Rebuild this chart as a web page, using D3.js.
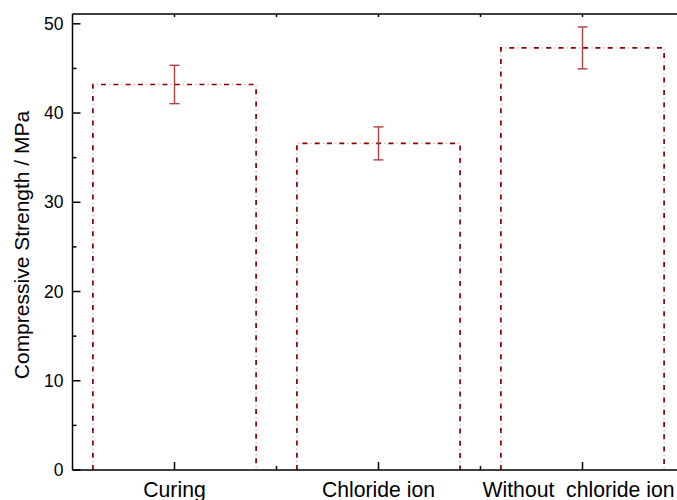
<!DOCTYPE html>
<html>
<head>
<meta charset="utf-8">
<script src="https://cdn.jsdelivr.net/npm/d3@7"></script>
<style>
  html, body { margin: 0; padding: 0; background: #fff; }
  svg { display: block; font-family: "Liberation Sans", Arial, sans-serif; }
</style>
</head>
<body>
<svg id="chart" width="677" height="500"></svg>
<script>
const categories = ["Curing", "Chloride ion", "Without  chloride ion"];
const strength = [43.2, 36.6, 47.3];
const errors = [2.15, 1.85, 2.35];
const yTicks = [0, 10, 20, 30, 40, 50];
const yMinorTicks = [5, 15, 25, 35, 45];
const yTitle = "Compressive Strength / MPa";

(function () {
const svg = d3.select("#chart");
const mLeft = 72.5, mRight = 684.5, mTop = 14, mBottom = 470;

const x = d3.scaleBand().domain(categories).range([mLeft, mRight])
  .paddingInner(0.2).paddingOuter(0.1);
const y = d3.scaleLinear().domain([0, 51.1]).range([mBottom, mTop]);

const barColor = "#8b0000";

categories.forEach((c, i) => {
  const x0 = x(c), x1 = x(c) + x.bandwidth();
  const p = d3.path();
  p.moveTo(x0, y(0)); p.lineTo(x0, y(strength[i])); p.lineTo(x1, y(strength[i])); p.lineTo(x1, y(0));
  svg.append("path").attr("d", p.toString()).attr("fill", "none")
    .attr("stroke", "#eab4b4").attr("stroke-width", 1.4)
    .attr("stroke-dasharray", "0,8,1.5,2.8");
  svg.append("path").attr("d", p.toString()).attr("fill", "none")
    .attr("stroke", barColor).attr("stroke-width", 1.7)
    .attr("stroke-dasharray", "5,7.3");
});

const errColor = "#b04040";
categories.forEach((c, i) => {
  const cx = x(c) + x.bandwidth() / 2;
  const g = svg.append("g").attr("stroke", errColor).attr("stroke-width", 1.4);
  g.append("line").attr("x1", cx).attr("x2", cx)
    .attr("y1", y(strength[i] + errors[i])).attr("y2", y(strength[i] - errors[i]));
  [strength[i] + errors[i], strength[i] - errors[i]].forEach(v => {
    g.append("line").attr("x1", cx - 5).attr("x2", cx + 5)
      .attr("y1", y(v)).attr("y2", y(v));
  });
});

const axisG = svg.append("g").attr("stroke", "#000").attr("stroke-width", 1.5).attr("fill", "none");
axisG.append("line").attr("x1", mLeft).attr("x2", mLeft).attr("y1", mTop).attr("y2", mBottom);
axisG.append("line").attr("x1", mLeft).attr("x2", mRight).attr("y1", mBottom).attr("y2", mBottom);
axisG.append("line").attr("x1", mLeft).attr("x2", mRight).attr("y1", mTop).attr("y2", mTop);
axisG.append("line").attr("x1", mRight).attr("x2", mRight).attr("y1", mTop).attr("y2", mBottom);

yTicks.forEach(v => {
  axisG.append("line").attr("x1", mLeft).attr("x2", mLeft + 8).attr("y1", y(v)).attr("y2", y(v));
});
yMinorTicks.forEach(v => {
  axisG.append("line").attr("x1", mLeft).attr("x2", mLeft + 4).attr("y1", y(v)).attr("y2", y(v));
});
svg.append("g").selectAll("text").data(yTicks).join("text")
  .attr("x", mLeft - 9).attr("y", d => y(d)).attr("dy", "0.35em")
  .attr("text-anchor", "end").attr("font-size", 17.5).attr("fill", "#000")
  .text(d => d);

categories.forEach(c => {
  const cx = x(c) + x.bandwidth() / 2;
  axisG.append("line").attr("x1", cx).attr("x2", cx).attr("y1", mBottom).attr("y2", mBottom - 8);
  axisG.append("line").attr("x1", cx).attr("x2", cx).attr("y1", mTop).attr("y2", mTop + 3);
});
categories.slice(1).forEach(c => {
  const bx = x(c) - x.step() * x.paddingInner() / 2;
  axisG.append("line").attr("x1", bx).attr("x2", bx).attr("y1", mBottom).attr("y2", mBottom - 4);
  axisG.append("line").attr("x1", bx).attr("x2", bx).attr("y1", mTop).attr("y2", mTop + 3);
});
svg.append("g").selectAll("text").data(categories).join("text")
  .attr("x", d => x(d) + x.bandwidth() / 2).attr("y", 497)
  .attr("dx", (d, i) => i === categories.length - 1 ? -4 : 0)
  .attr("text-anchor", "middle").attr("font-size", 21.2).attr("fill", "#000")
  .attr("xml:space", "preserve").style("white-space", "pre")
  .text(d => d);

svg.append("text")
  .attr("transform", `translate(29, ${(mTop + mBottom) / 2 + 3}) rotate(-90)`)
  .attr("text-anchor", "middle").attr("font-size", 21).attr("fill", "#000")
  .text(yTitle);
})();
</script>
</body>
</html>
